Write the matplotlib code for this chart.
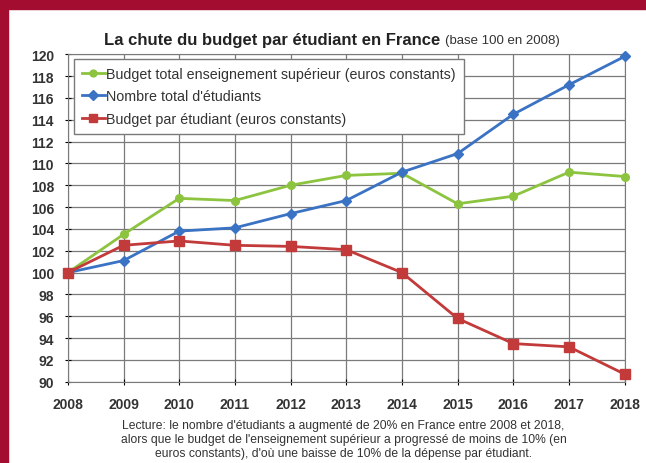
import matplotlib.pyplot as plt
from matplotlib.patches import Rectangle

plt.rcParams['font.family'] = ['Liberation Sans', 'DejaVu Sans']

years = list(range(2008, 2019))
budget_total = [100, 103.5, 106.8, 106.6, 108.0, 108.9, 109.1, 106.3, 107.0, 109.2, 108.8]
nb_etudiants = [100, 101.1, 103.8, 104.1, 105.4, 106.6, 109.2, 110.9, 114.5, 117.2, 119.8]
budget_par_etudiant = [100, 102.5, 102.9, 102.5, 102.4, 102.1, 100.0, 95.8, 93.5, 93.2, 90.7]

labels = ['Budget total enseignement supérieur (euros constants)',
          "Nombre total d'étudiants",
          'Budget par étudiant (euros constants)']
colors = ['#8cc43f', '#3a72c4', '#c23a3a']
markers = ['o', 'D', 's']
msizes = [5.5, 5.5, 7]

caption = ("Lecture: le nombre d'étudiants a augmenté de 20% en France entre 2008 et 2018,\n"
           "alors que le budget de l'enseignement supérieur a progressé de moins de 10% (en\n"
           "euros constants), d'où une baisse de 10% de la dépense par étudiant.")

fig = plt.figure(figsize=(6.46, 4.64), dpi=100)
fig.patch.set_facecolor('white')
fig.patches.append(Rectangle((0, 1 - 10 / 464), 1, 10 / 464, transform=fig.transFigure,
                             color='#a30d2f', zorder=0))
fig.patches.append(Rectangle((0, 0), 8 / 646, 1, transform=fig.transFigure,
                             color='#a30d2f', zorder=0))

ax = fig.add_axes([0.105, 0.175, 0.862, 0.706])
series = [budget_total, nb_etudiants, budget_par_etudiant]
for vals, lab, c, m, ms in zip(series, labels, colors, markers, msizes):
    ax.plot(years, vals, color=c, marker=m, markersize=ms, lw=2, label=lab,
            clip_on=False, zorder=3)

ax.set_xlim(2008, 2018)
ax.set_ylim(90, 120)
ax.set_xticks(years)
ax.set_yticks(range(90, 121, 2))
ax.tick_params(axis='y', labelsize=10, length=4, direction='inout', pad=8)
ax.tick_params(axis='x', labelsize=10, length=4, direction='inout', pad=9)
for lbl in ax.get_xticklabels() + ax.get_yticklabels():
    lbl.set_fontweight('bold')
    lbl.set_color('#333333')
ax.grid(True, color='#7a7a7a', lw=0.9)
for s in ax.spines.values():
    s.set_color('#7a7a7a')

leg = ax.legend(loc='upper left', bbox_to_anchor=(0.006, 0.995), fontsize=10.3,
                frameon=True, fancybox=False, edgecolor='#7a7a7a', framealpha=1,
                handlelength=1.6, handletextpad=0.1, labelspacing=0.6,
                borderpad=0.55, borderaxespad=0.2, markerscale=0.9)
for t in leg.get_texts():
    t.set_color('#333333')

fig.text(0.682, 0.912, 'La chute du budget par étudiant en France', ha='right',
         va='center', fontsize=12, fontweight='bold', color='#222222')
fig.text(0.689, 0.911, '(base 100 en 2008)', ha='left', va='center',
         fontsize=9.5, color='#333333')
fig.text(0.532, 0.052, caption, ha='center', va='center', fontsize=8.7,
         color='#333333', linespacing=1.25)

fig.savefig('out.png', dpi=100)
